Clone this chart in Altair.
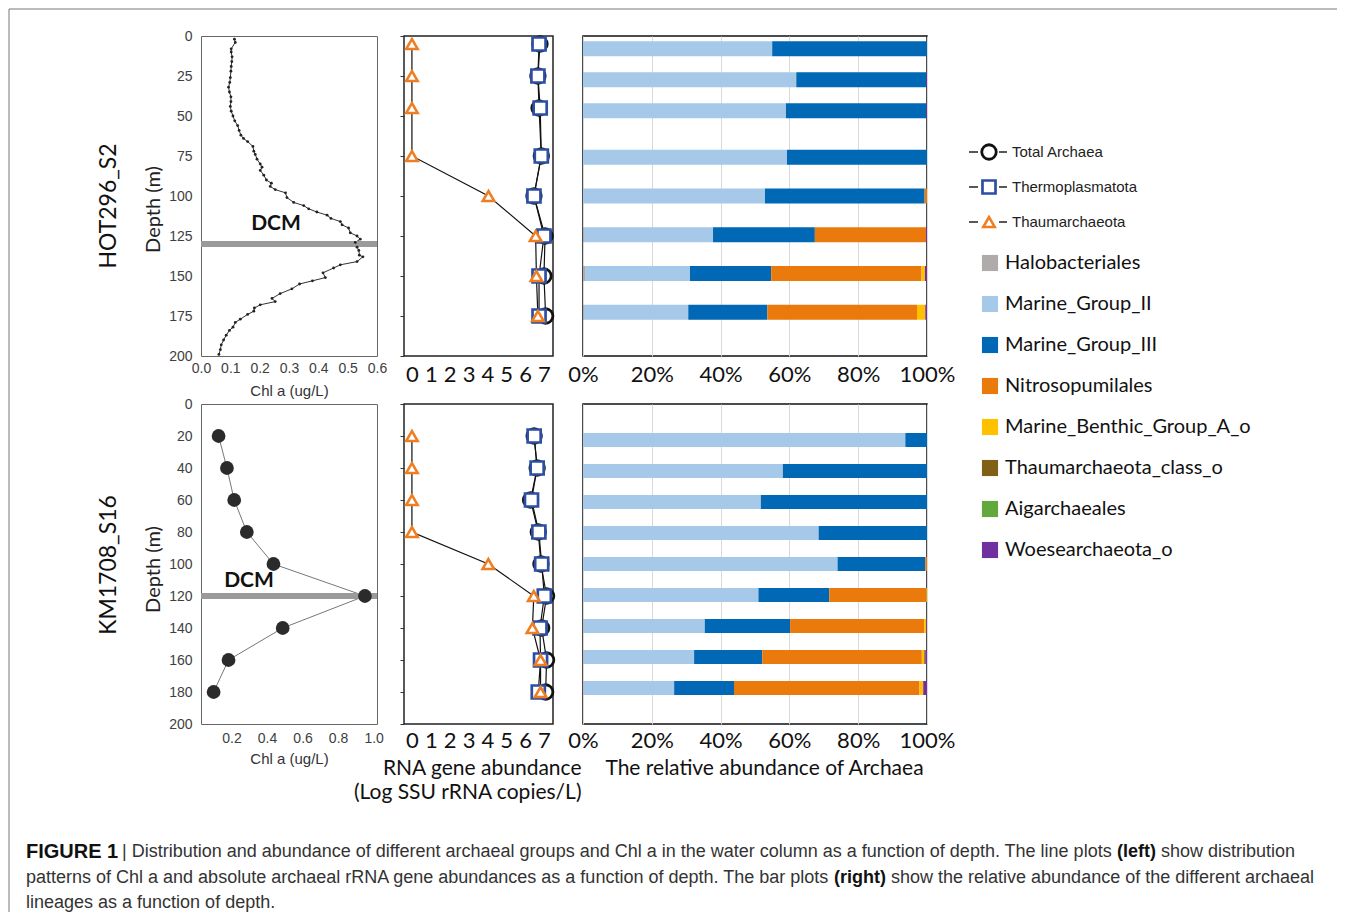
import altair as alt
import pandas as pd

# ---------------- data ----------------
stations = ["HOT296_S2", "KM1708_S16"]
dcm_depths = [130, 120]

chl_top_depth = [2, 4, 8, 10, 13, 16, 19, 22, 26, 29, 32, 35, 38, 41, 44, 47, 50, 53, 56, 59,
                 62, 64, 66, 69, 72, 74, 77, 80, 82, 84, 87, 90, 92, 94, 96, 98, 101, 104, 106, 108,
                 110, 112, 114, 116, 118, 120, 123, 125, 127, 129, 132, 134, 137, 138, 141, 143, 145, 148, 151, 153,
                 155, 158, 161, 164, 166, 168, 170, 172, 174, 177, 179, 182, 184, 187, 190, 193, 196, 199]
chl_top_val = [0.114, 0.117, 0.103, 0.103, 0.106, 0.105, 0.103, 0.102, 0.100, 0.098,
               0.094, 0.097, 0.102, 0.102, 0.100, 0.103, 0.109, 0.115, 0.125, 0.130,
               0.136, 0.145, 0.159, 0.177, 0.180, 0.185, 0.191, 0.202, 0.208, 0.202,
               0.214, 0.223, 0.240, 0.236, 0.253, 0.288, 0.293, 0.316, 0.350, 0.367,
               0.395, 0.430, 0.443, 0.475, 0.481, 0.503, 0.509, 0.532, 0.543, 0.526,
               0.532, 0.538, 0.540, 0.552, 0.532, 0.475, 0.452, 0.416, 0.424, 0.380,
               0.336, 0.310, 0.270, 0.242, 0.253, 0.202, 0.182, 0.180, 0.159, 0.134,
               0.117, 0.109, 0.097, 0.086, 0.077, 0.069, 0.066, 0.061]

chl_bot_depth = [20, 40, 60, 80, 100, 120, 140, 160, 180]
chl_bot_val = [0.127, 0.174, 0.215, 0.286, 0.436, 0.951, 0.488, 0.183, 0.099]

series = ["Total Archaea", "Thermoplasmatota", "Thaumarchaeota"]
series_colors = ["#111111", "#2D4FA3", "#EF7D22"]
series_shapes = ["circle", "square", "triangle-up"]

abund_top_depth = [5, 25, 45, 75, 100, 125, 150, 175]
abund_top_total = [6.79, 6.68, 6.74, 6.86, 6.47, 7.06, 7.00, 7.09]
abund_top_thermo = [6.74, 6.68, 6.80, 6.86, 6.47, 7.00, 6.74, 6.74]
abund_top_thaum = [0, 0, 0, 0, 4.06, 6.56, 6.60, 6.68]

abund_bot_depth = [20, 40, 60, 80, 100, 120, 140, 160, 180]
abund_bot_total = [6.48, 6.64, 6.29, 6.70, 6.84, 7.14, 6.88, 7.14, 7.09]
abund_bot_thermo = [6.48, 6.64, 6.34, 6.73, 6.88, 7.02, 6.79, 6.82, 6.70]
abund_bot_thaum = [0, 0, 0, 0, 4.05, 6.46, 6.39, 6.82, 6.82]

lineages = ["Halobacteriales", "Marine_Group_II", "Marine_Group_III", "Nitrosopumilales",
            "Marine_Benthic_Group_A_o", "Thaumarchaeota_class_o", "Aigarchaeales", "Woesearchaeota_o"]
lineage_colors = ["#AFABAB", "#A6C8E9", "#0068B5", "#EA7A0C", "#FFC000", "#7F6016", "#62A83D", "#7030A0"]

bar_top_depth = [5, 25, 45, 75, 100, 125, 150, 175]
top_halo = [0, 0, 0, 0, 0, 0.3, 0.6, 0.3]
top_mg2 = [55.0, 62.0, 59.0, 59.3, 52.9, 37.5, 30.5, 30.3]
top_mg3 = [45.0, 37.8, 40.8, 40.7, 46.4, 29.6, 23.6, 23.0]
top_nitro = [0, 0, 0, 0, 0.7, 32.3, 43.7, 43.5]
top_mbga = [0, 0, 0, 0, 0, 0, 1.0, 2.4]
top_thaumc = [0, 0, 0, 0, 0, 0, 0, 0]
top_aig = [0, 0, 0, 0, 0, 0, 0, 0]
top_woese = [0, 0.2, 0.2, 0, 0, 0.3, 0.6, 0.5]

bar_bot_depth = [20, 40, 60, 80, 100, 120, 140, 160, 180]
bot_halo = [0, 0, 0, 0, 0, 0, 0.2, 0.2, 0.2]
bot_mg2 = [93.7, 58.1, 51.7, 68.5, 74.0, 51.0, 35.2, 32.1, 26.3]
bot_mg3 = [6.3, 41.9, 48.3, 31.5, 25.5, 20.6, 24.8, 19.8, 17.4]
bot_nitro = [0, 0, 0, 0, 0.5, 28.2, 39.0, 46.4, 53.9]
bot_mbga = [0, 0, 0, 0, 0, 0.2, 0.6, 0.7, 1.1]
bot_thaumc = [0, 0, 0, 0, 0, 0, 0, 0.3, 0]
bot_aig = [0, 0, 0, 0, 0, 0, 0, 0, 0]
bot_woese = [0, 0, 0, 0, 0, 0, 0.2, 0.5, 1.1]

cap1 = ["FIGURE 1",
        "| Distribution and abundance of different archaeal groups and Chl a in the water column as a function of depth. The line plots",
        "(left)", "show distribution"]
cap2 = ["patterns of Chl a and absolute archaeal rRNA gene abundances as a function of depth. The bar plots",
        "(right)", "show the relative abundance of the different archaeal"]
cap3 = ["lineages as a function of depth."]

# ---------------- style ----------------
SANS = "Liberation Sans"
CAL = "Lato"
H = 320


def depth_scale():
    return alt.Scale(domain=[0, 200], reverse=True, nice=False, zero=False)


def spacer(w, h):
    return alt.Chart(pd.DataFrame({"s": [0]})).mark_point(opacity=0, size=1).encode(
        x=alt.value(5), y=alt.value(5)).properties(width=w, height=h)


def chl_panel(depths, vals, xdom, xticks, ystep, pt_size, line_col, pt_col, dcm, dcm_x, dcm_dy,
              title_y, lab_pad):
    df = pd.DataFrame({"depth": depths, "chl": vals})
    x = alt.X("chl:Q", scale=alt.Scale(domain=xdom, nice=False, zero=False),
              axis=alt.Axis(values=xticks, format=".1f", title="Chl a (ug/L)",
                            labelFont=SANS, labelFontSize=14, labelColor="#404040",
                            labelFlush=False, labelOverlap=False, ticks=False, domain=False,
                            grid=False, labelPadding=lab_pad,
                            titleFont=SANS, titleFontSize=15, titleFontWeight="normal",
                            titleColor="#333333", titleY=34, titleBaseline="middle"))
    y = alt.Y("depth:Q", scale=depth_scale(),
              axis=alt.Axis(values=list(range(0, 201, ystep)), title="Depth (m)",
                            labelFont=SANS, labelFontSize=14, labelColor="#404040",
                            ticks=False, domain=False, grid=False, labelPadding=9,
                            labelFlush=False, labelOverlap=False,
                            titleFont=CAL, titleFontSize=20, titleFontWeight="normal",
                            titleColor="#222222", titleAngle=270, titleX=-48, titleY=title_y,
                            titleAlign="center", titleBaseline="middle"))
    base = alt.Chart(df)
    line = base.mark_line(color=line_col, strokeWidth=1).encode(x=x, y=y, order=alt.Order("depth:Q"))
    pts = base.mark_circle(size=pt_size, color=pt_col, opacity=1).encode(x=x, y=y)
    ddf = pd.DataFrame({"depth": [dcm], "label": ["DCM"]})
    rule = alt.Chart(ddf).mark_rule(color="#9A9A9A", strokeWidth=6).encode(y=y)
    txt = alt.Chart(ddf).mark_text(font=CAL, fontWeight="bold", fontSize=21, dy=dcm_dy,
                                   color="#111111", align="center", baseline="middle").encode(
        x=alt.value(dcm_x), y=y, text="label:N")
    return alt.layer(line, rule, pts, txt).properties(
        width=176, height=H, view=alt.ViewBackground(stroke="#666666", strokeWidth=1))


def abund_panel(depths, total, thermo, thaum, ystep, lab_pad, title=None):
    rows = []
    for s, vals in zip(series, [total, thermo, thaum]):
        for d, v in zip(depths, vals):
            rows.append({"depth": d, "series": s, "value": v})
    df = pd.DataFrame(rows)
    ax = dict(values=list(range(8)), labelFont=CAL, labelFontSize=22, labelColor="#111111",
              labelFlush=False, labelOverlap=False, ticks=False, domain=False, grid=False,
              labelPadding=lab_pad)
    if title is not None:
        ax.update(title=title, titleFont=CAL, titleFontSize=21, titleFontWeight="normal",
                  titleColor="#111111", titleAlign="right", titleX=177, titleY=44,
                  titleBaseline="middle", titleLineHeight=24)
    else:
        ax.update(title=None)
    x = alt.X("value:Q", scale=alt.Scale(domain=[-0.42, 7.48], nice=False, zero=False),
              axis=alt.Axis(**ax))
    y = alt.Y("depth:Q", scale=depth_scale(),
              axis=alt.Axis(values=list(range(0, 201, ystep)), labels=False, ticks=True, tickSize=4,
                            tickColor="#333333", domain=False, grid=False, title=None))
    lines = alt.Chart(df).mark_line(color="#111111", strokeWidth=1.2).encode(
        x=x, y=y, detail="series:N", order=alt.Order("depth:Q"))
    pts = alt.Chart(df).mark_point(filled=True, fill="white", opacity=1).encode(
        x=x, y=y,
        shape=alt.Shape("series:N", scale=alt.Scale(domain=series, range=series_shapes), legend=None),
        stroke=alt.Stroke("series:N", scale=alt.Scale(domain=series, range=series_colors), legend=None),
        size=alt.Size("series:N", scale=alt.Scale(domain=series, range=[210, 130, 190]), legend=None),
        strokeWidth=alt.StrokeWidth("series:N", scale=alt.Scale(domain=series, range=[2.8, 2.6, 2.2]),
                                    legend=None))
    return alt.layer(lines, pts).properties(
        width=149, height=H, view=alt.ViewBackground(stroke="#222222", strokeWidth=1.5))


def bar_panel(depths, lists, size, lab_pad, title=None):
    rows = []
    for i, (lin, vals) in enumerate(zip(lineages, lists)):
        for d, v in zip(depths, vals):
            rows.append({"depth": d, "lineage": lin, "pct": v, "ord": i})
    df = pd.DataFrame(rows)
    ax = dict(values=[0, 0.2, 0.4, 0.6, 0.8, 1.0], format=".0%", labelFont=CAL, labelFontSize=22,
              labelColor="#111111", labelFlush=False, labelOverlap=False, ticks=False, domain=False,
              grid=True, gridColor="#D9D9D9", gridWidth=1, labelPadding=lab_pad)
    if title is not None:
        ax.update(title=title, titleFont=CAL, titleFontSize=21, titleFontWeight="normal",
                  titleColor="#111111", titleAlign="center", titleX=181, titleY=44,
                  titleBaseline="middle")
    else:
        ax.update(title=None)
    return alt.Chart(df).mark_bar(orient="horizontal", size=size).encode(
        x=alt.X("pct:Q", stack="normalize", scale=alt.Scale(domain=[0, 1], nice=False),
                axis=alt.Axis(**ax)),
        y=alt.Y("depth:Q", scale=depth_scale(), axis=None),
        color=alt.Color("lineage:N", scale=alt.Scale(domain=lineages, range=lineage_colors), legend=None),
        order=alt.Order("ord:Q"),
    ).properties(width=344, height=H, view=alt.ViewBackground(stroke="#111111", strokeWidth=1.5))


def label_panel(name, ycenter, frame=False):
    df = pd.DataFrame({"station": [name]})
    t = alt.Chart(df).mark_text(angle=270, font=CAL, fontSize=23, color="#111111",
                                baseline="middle", align="center").encode(
        x=alt.value(99.5), y=alt.value(ycenter), text="station:N")
    layers = [t]
    if frame:
        fdf = pd.DataFrame({"f": [0]})
        left = alt.Chart(fdf).mark_rule(color="#777777", strokeWidth=1).encode(
            x=alt.value(0), y=alt.value(-27), y2=alt.value(876))
        top = alt.Chart(fdf).mark_rule(color="#777777", strokeWidth=1).encode(
            x=alt.value(0), x2=alt.value(1328), y=alt.value(-27))
        layers = [left, top, t]
    return alt.layer(*layers).properties(width=192, height=H)


def legend_panel():
    ldf = pd.DataFrame({"series": series})
    ly = alt.Y("series:N", scale=alt.Scale(type="point", domain=series, range=[116, 186], padding=0),
               axis=None)
    rule = alt.Chart(ldf).mark_rule(color="#222222", strokeWidth=1.3, strokeDash=[9, 21, 8]).encode(
        x=alt.value(8), x2=alt.value(46), y=ly)
    mk = alt.Chart(ldf).mark_point(filled=True, fill="white", opacity=1).encode(
        x=alt.value(28), y=ly,
        shape=alt.Shape("series:N", scale=alt.Scale(domain=series, range=series_shapes), legend=None),
        stroke=alt.Stroke("series:N", scale=alt.Scale(domain=series, range=series_colors), legend=None),
        size=alt.Size("series:N", scale=alt.Scale(domain=series, range=[210, 130, 190]), legend=None),
        strokeWidth=alt.StrokeWidth("series:N", scale=alt.Scale(domain=series, range=[2.8, 2.6, 2.2]),
                                    legend=None))
    lt = alt.Chart(ldf).mark_text(align="left", baseline="middle", font=SANS, fontSize=15,
                                  color="#222222").encode(x=alt.value(51), y=ly, text="series:N")
    cdf = pd.DataFrame({"lineage": lineages})
    cy = alt.Y("lineage:N", scale=alt.Scale(type="point", domain=lineages, range=[227, 514], padding=0),
               axis=None)
    sq = alt.Chart(cdf).mark_square(size=260, opacity=1).encode(
        x=alt.value(29), y=cy,
        color=alt.Color("lineage:N", scale=alt.Scale(domain=lineages, range=lineage_colors), legend=None))
    ct = alt.Chart(cdf).mark_text(align="left", baseline="middle", font=CAL, fontSize=20,
                                  color="#111111").encode(x=alt.value(44), y=cy, text="lineage:N")
    return alt.layer(rule, mk, lt, sq, ct).resolve_scale(y="independent").properties(width=300, height=H)


def caption_panel():
    df = pd.DataFrame({"c": [0]})
    segs = [
        (cap1[0], 17, 16, "bold", "#111111", 20),
        (cap1[1], 113, 16, "normal", "#333333", 18),
        (cap1[2], 1108, 16, "bold", "#111111", 18),
        (cap1[3], 1152, 16, "normal", "#333333", 18),
        (cap2[0], 17, 42, "normal", "#333333", 18),
        (cap2[1], 825, 42, "bold", "#111111", 18),
        (cap2[2], 882, 42, "normal", "#333333", 18),
        (cap3[0], 17, 67, "normal", "#333333", 18),
    ]
    layers = []
    for text, xx, yy, w, col, fs in segs:
        layers.append(alt.Chart(df).mark_text(align="left", baseline="middle", font=SANS,
                                              fontSize=fs, fontWeight=w, color=col).encode(
            x=alt.value(xx), y=alt.value(yy), text=alt.value(text)))
    return alt.layer(*layers).properties(width=1, height=76)


chl1 = chl_panel(chl_top_depth, chl_top_val, [0, 0.6], [0, 0.1, 0.2, 0.3, 0.4, 0.5, 0.6], 25,
                 8, "#333333", "#222222", dcm_depths[0], 75, -20, 173, 5)
chl2 = chl_panel(chl_bot_depth, chl_bot_val, [0.028, 1.019], [0.2, 0.4, 0.6, 0.8, 1.0], 20,
                 190, "#777777", "#2B2B2B", dcm_depths[1], 48, -15, 165, 7)

ab1 = abund_panel(abund_top_depth, abund_top_total, abund_top_thermo, abund_top_thaum, 25, 8)
ab2 = abund_panel(abund_bot_depth, abund_bot_total, abund_bot_thermo, abund_bot_thaum, 20, 6,
                  title=["RNA gene abundance", "(Log SSU rRNA copies/L)"])

bar1 = bar_panel(bar_top_depth, [top_halo, top_mg2, top_mg3, top_nitro, top_mbga, top_thaumc,
                                 top_aig, top_woese], 15, 8)
bar2 = bar_panel(bar_bot_depth, [bot_halo, bot_mg2, bot_mg3, bot_nitro, bot_mbga, bot_thaumc,
                                 bot_aig, bot_woese], 14, 6, title="The relative abundance of Archaea")

lab1 = label_panel(stations[0], 170, frame=True)
lab2 = label_panel(stations[1], 161)

# grid: columns = label, chl, gap, abundance, gap, bars, gap, legend
cells = [
    lab1, chl1, spacer(27, 1), ab1, spacer(30, 1), bar1, spacer(34, 1), legend_panel(),
    spacer(1, 48), spacer(1, 1), spacer(1, 1), spacer(1, 1), spacer(1, 1), spacer(1, 1), spacer(1, 1), spacer(1, 1),
    lab2, chl2, spacer(1, 1), ab2, spacer(1, 1), bar2, spacer(1, 1), spacer(1, 1),
    spacer(1, 112), spacer(1, 1), spacer(1, 1), spacer(1, 1), spacer(1, 1), spacer(1, 1), spacer(1, 1), spacer(1, 1),
    caption_panel(), spacer(1, 1), spacer(1, 1), spacer(1, 1), spacer(1, 1), spacer(1, 1), spacer(1, 1), spacer(1, 1),
]

chart = alt.concat(*cells, columns=8, spacing=0, bounds="flush").properties(
    padding=0, background="white"
).configure(font=CAL).configure_view(stroke=None)

chart.save("out.html", embed_options={"renderer": "svg", "actions": False})
